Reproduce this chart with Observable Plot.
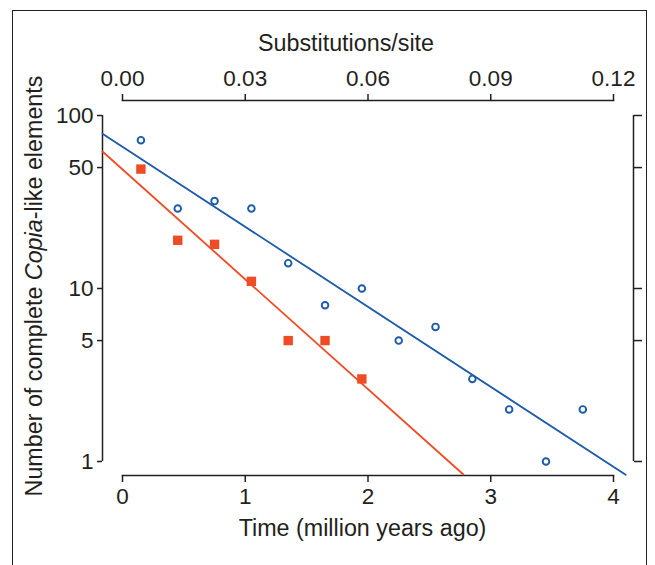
<!DOCTYPE html>
<html>
<head>
<meta charset="utf-8">
<script src="https://cdn.jsdelivr.net/npm/d3@7"></script>
<script src="https://cdn.jsdelivr.net/npm/@observablehq/plot@0.6"></script>
<style>
  html, body { margin: 0; padding: 0; background: #fff; }
  #wrap { position: relative; width: 655px; height: 565px; overflow: hidden; background: #fff; }
  #border { position: absolute; left: 12px; top: 10px; width: 635px; height: 620px; border: 1.5px solid #231f20; box-sizing: border-box; pointer-events: none; }
  #chart { position: absolute; left: 0; top: 0; }
</style>
</head>
<body>
<div id="wrap"><div id="chart"></div><div id="border"></div></div>
<script>
// ---- data ----
const blueTimes  = [0.15, 0.45, 0.75, 1.05, 1.35, 1.65, 1.95, 2.25, 2.55, 2.85, 3.15, 3.45, 3.75];
const blueCounts = [72, 29, 32, 29, 14, 8, 10, 5, 6, 3, 2, 1, 2];
const redTimes   = [0.15, 0.45, 0.75, 1.05, 1.35, 1.65, 1.95];
const redCounts  = [49, 19, 18, 11, 5, 5, 3];

// fitted regression lines (end points, in data units)
const blueFitTimes  = [-0.163, 4.099];
const blueFitCounts = [78.4, 0.838];
const redFitTimes   = [-0.163, 2.777];
const redFitCounts  = [61.9, 0.841];

// axes
const timeTicks   = [0, 1, 2, 3, 4];
const substTicks  = [0, 0.03, 0.06, 0.09, 0.12];
const substPerMy  = 0.03;
const countTicks  = [1, 5, 10, 50, 100];

const blue = "#1d5aa8";
const red  = "#ef4c25";
const ink  = "#231f20";
const font = "'Liberation Sans', Arial, Helvetica, sans-serif";
const fs = 22.5;

const bluePts = blueTimes.map((t, i) => ({t, n: blueCounts[i]}));
const redPts  = redTimes.map((t, i) => ({t, n: redCounts[i]}));
const blueFit = blueFitTimes.map((t, i) => ({t, n: blueFitCounts[i]}));
const redFit  = redFitTimes.map((t, i) => ({t, n: redFitCounts[i]}));

const chart = Plot.plot({
  width: 655,
  height: 565,
  marginTop: 100,
  marginBottom: 90,
  marginLeft: 122,
  marginRight: 42,
  style: {fontFamily: font, background: "transparent", color: ink, overflow: "visible"},
  x: {domain: [0, 4]},
  y: {type: "log", domain: [1, 100], range: [461, 115]},
  marks: [
    // top & bottom axis lines
    Plot.frame({anchor: "top", stroke: ink, strokeWidth: 1.5}),
    Plot.frame({anchor: "bottom", stroke: ink, strokeWidth: 1.5}),
    // bottom axis: time
    Plot.axisX(timeTicks, {anchor: "bottom", tickSize: 7, tickPadding: 6, fontSize: fs,
      tickFormat: d => String(d), label: null, stroke: ink, strokeWidth: 1.5, fill: ink}),
    // top axis: substitutions/site
    Plot.axisX(substTicks.map(s => s / substPerMy), {anchor: "top", tickSize: 7, tickPadding: 8, fontSize: fs,
      tickFormat: d => (d * substPerMy).toFixed(2), label: null, stroke: ink, strokeWidth: 1.5, fill: ink}),
    // left axis
    Plot.ruleX([0], {y1: countTicks[0], y2: countTicks[countTicks.length - 1], dx: -20, stroke: ink, strokeWidth: 1.5}),
    Plot.axisY(countTicks, {anchor: "left", dx: -20, tickSize: 5, tickPadding: 4, fontSize: fs,
      tickFormat: d => String(d), label: null, stroke: ink, strokeWidth: 1.5, fill: ink}),
    // right axis (no labels)
    Plot.ruleX([4], {y1: countTicks[0], y2: countTicks[countTicks.length - 1], dx: 20, stroke: ink, strokeWidth: 1.5}),
    Plot.axisY(countTicks, {anchor: "right", dx: 20, tickSize: 8, fontSize: fs,
      tickFormat: () => "", label: null, stroke: ink, strokeWidth: 1.5}),
    // fitted lines
    Plot.line(blueFit, {x: "t", y: "n", stroke: blue, strokeWidth: 1.8}),
    Plot.line(redFit, {x: "t", y: "n", stroke: red, strokeWidth: 1.8}),
    // points
    Plot.dot(bluePts, {x: "t", y: "n", r: 3.3, stroke: blue, strokeWidth: 1.9, fill: "none"}),
    Plot.dot(redPts, {x: "t", y: "n", r: 5.3, symbol: "square", fill: red, stroke: "none"})
  ]
});

document.getElementById("chart").appendChild(chart);

// titles
const svg = d3.select(chart);
const tfs = 23.3;
svg.append("text")
  .attr("x", 346).attr("y", 51)
  .attr("text-anchor", "middle")
  .attr("font-family", font).attr("font-size", tfs).attr("fill", ink)
  .text("Substitutions/site");
svg.append("text")
  .attr("x", 362.5).attr("y", 536)
  .attr("text-anchor", "middle")
  .attr("font-family", font).attr("font-size", tfs).attr("fill", ink)
  .text("Time (million years ago)");
const yt = svg.append("text")
  .attr("transform", "translate(42,286) rotate(-90)")
  .attr("text-anchor", "middle")
  .attr("font-family", font).attr("font-size", tfs).attr("fill", ink);
yt.append("tspan").text("Number of complete ");
yt.append("tspan").attr("font-style", "italic").text("Copia");
yt.append("tspan").text("-like elements");
</script>
</body>
</html>
